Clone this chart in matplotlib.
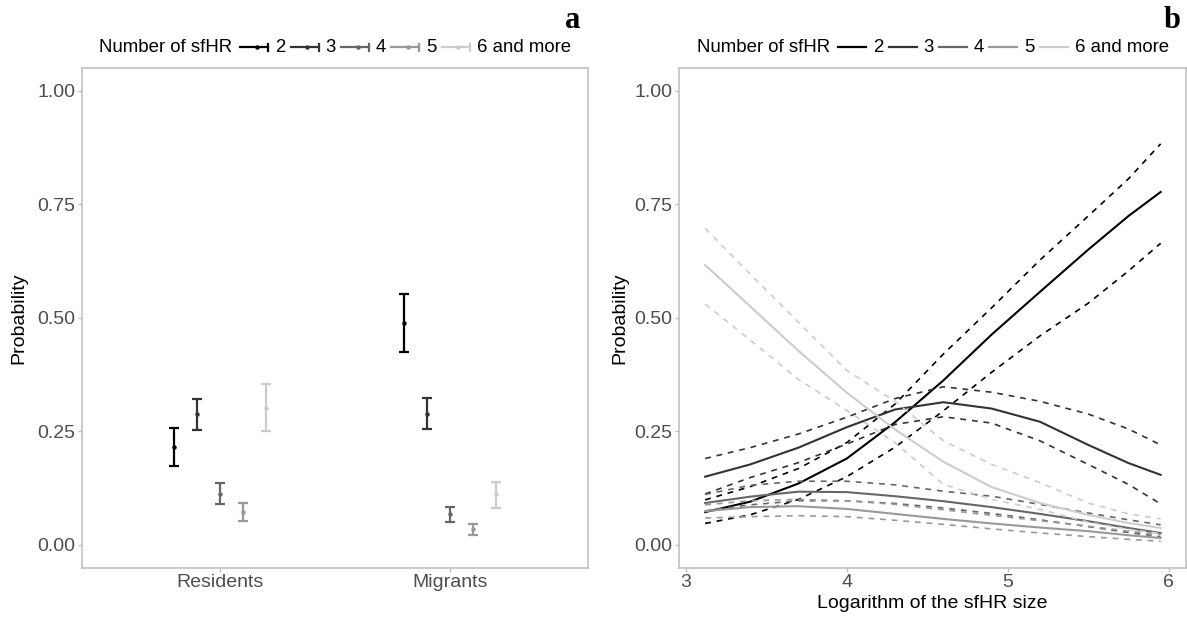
import matplotlib
matplotlib.use('Agg')
import matplotlib.pyplot as plt
from matplotlib.lines import Line2D

plt.rcParams['font.family'] = ['Liberation Sans', 'DejaVu Sans']

# groups and colours (grey scale)
groups = ['2', '3', '4', '5', '6 and more']
colors = ['#000000', '#333333', '#666666', '#999999', '#CCCCCC']

# panel a: probability by status
status = ['Residents', 'Migrants']
res_mean = [0.216, 0.287, 0.112, 0.072, 0.302]
res_low = [0.173, 0.253, 0.090, 0.052, 0.251]
res_high = [0.257, 0.322, 0.135, 0.091, 0.354]
mig_mean = [0.488, 0.288, 0.067, 0.034, 0.111]
mig_low = [0.424, 0.254, 0.051, 0.022, 0.080]
mig_high = [0.552, 0.324, 0.083, 0.045, 0.139]

# panel b: probability vs log sfHR size
log_size = [3.12, 3.4, 3.7, 4.0, 4.3, 4.6, 4.9, 5.2, 5.5, 5.75, 5.95]
p2 = [0.072, 0.095, 0.135, 0.190, 0.270, 0.362, 0.463, 0.557, 0.650, 0.724, 0.777]
p2_hi = [0.099, 0.128, 0.168, 0.225, 0.310, 0.420, 0.522, 0.627, 0.724, 0.806, 0.883]
p2_lo = [0.047, 0.066, 0.100, 0.150, 0.215, 0.295, 0.380, 0.460, 0.532, 0.603, 0.664]
p3 = [0.150, 0.177, 0.214, 0.259, 0.298, 0.314, 0.300, 0.271, 0.220, 0.180, 0.154]
p3_hi = [0.190, 0.214, 0.244, 0.281, 0.322, 0.348, 0.336, 0.316, 0.288, 0.255, 0.220]
p3_lo = [0.112, 0.148, 0.181, 0.222, 0.265, 0.282, 0.268, 0.229, 0.177, 0.133, 0.090]
p4 = [0.092, 0.106, 0.117, 0.116, 0.107, 0.096, 0.083, 0.068, 0.052, 0.037, 0.026]
p4_hi = [0.111, 0.131, 0.140, 0.140, 0.132, 0.118, 0.107, 0.089, 0.070, 0.055, 0.044]
p4_lo = [0.075, 0.088, 0.097, 0.097, 0.091, 0.081, 0.069, 0.055, 0.040, 0.027, 0.018]
p5 = [0.074, 0.083, 0.085, 0.079, 0.068, 0.057, 0.047, 0.038, 0.030, 0.021, 0.015]
p5_hi = [0.088, 0.097, 0.100, 0.097, 0.089, 0.077, 0.065, 0.053, 0.041, 0.030, 0.023]
p5_lo = [0.059, 0.062, 0.064, 0.062, 0.054, 0.045, 0.035, 0.026, 0.018, 0.012, 0.008]
p6 = [0.616, 0.525, 0.427, 0.335, 0.254, 0.183, 0.127, 0.092, 0.066, 0.048, 0.037]
p6_hi = [0.697, 0.596, 0.490, 0.384, 0.316, 0.229, 0.177, 0.137, 0.092, 0.068, 0.057]
p6_lo = [0.530, 0.451, 0.364, 0.296, 0.225, 0.133, 0.100, 0.078, 0.050, 0.034, 0.025]

curves = [(p2, p2_lo, p2_hi), (p3, p3_lo, p3_hi), (p4, p4_lo, p4_hi),
          (p5, p5_lo, p5_hi), (p6, p6_lo, p6_hi)]

fig = plt.figure(figsize=(11.87, 6.19), dpi=100)
W, H = 1187, 619
ax1 = fig.add_axes([82 / W, 1 - 567.5 / H, 506 / W, 499.5 / H])
ax2 = fig.add_axes([679 / W, 1 - 567.5 / H, 507 / W, 499.5 / H])

yt = [0, 0.25, 0.5, 0.75, 1.0]
for ax in (ax1, ax2):
    for s in ax.spines.values():
        s.set_color('#BDBDBD')
        s.set_linewidth(1.1)
    ax.tick_params(colors='#BDBDBD', labelcolor='#4D4D4D', labelsize=14,
                   length=3, width=0.9, pad=2)
    ax.set_ylim(-0.05, 1.05)
    ax.set_yticks(yt)
    ax.set_yticklabels(['%.2f' % v for v in yt])
    ax.set_ylabel('Probability', fontsize=14, color='black')

# panel a
offsets = [-0.2, -0.1, 0.0, 0.1, 0.2]
for i, g in enumerate(groups):
    xs = [1 + offsets[i], 2 + offsets[i]]
    m = [res_mean[i], mig_mean[i]]
    lo = [res_mean[i] - res_low[i], mig_mean[i] - mig_low[i]]
    hi = [res_high[i] - res_mean[i], mig_high[i] - mig_mean[i]]
    ax1.errorbar(xs, m, yerr=[lo, hi], fmt='o', ms=2.2, color=colors[i],
                 elinewidth=1.6, capsize=3.8, capthick=1.6)
ax1.set_xlim(0.4, 2.6)
ax1.set_xticks([1, 2])
ax1.set_xticklabels(status)
ax1.yaxis.set_label_coords(-0.108, 0.5)

# panel b
for i, (m, lo, hi) in enumerate(curves):
    ax2.plot(log_size, m, color=colors[i], lw=1.5, solid_joinstyle='round')
    for band in (lo, hi):
        ax2.plot(log_size, band, color=colors[i], lw=1.2, ls=(0, (3.5, 3.5)))
ax2.set_xlim(2.9575, 6.1075)
ax2.set_xticks([3, 4, 5, 6])
ax2.set_xlabel('Logarithm of the sfHR size', fontsize=14, color='black')
ax2.xaxis.set_label_coords(0.5, -0.055)
ax2.yaxis.set_label_coords(-0.100, 0.5)

# legends drawn in figure pixels, centred above each panel
renderer = fig.canvas.get_renderer()


def draw_legend(center_px, kind):
    y = 1 - 47 / H
    title = fig.text(0, y, 'Number of sfHR', fontsize=13.4, va='center')
    labels = [fig.text(0, y, g, fontsize=13.4, va='center') for g in groups]
    tw = title.get_window_extent(renderer).width
    lw_ = [t.get_window_extent(renderer).width for t in labels]
    key, gap1, gap2 = 28, 7, 5
    total = tw + 8 + sum(key + gap1 + w for w in lw_) + gap2 * (len(groups) - 1)
    x = center_px - total / 2
    title.set_x(x / W)
    x += tw + 8
    for i, t in enumerate(labels):
        fig.add_artist(Line2D([x / W, (x + key) / W], [y, y], transform=fig.transFigure,
                              color=colors[i], lw=1.6))
        if kind == 'err':
            fig.add_artist(Line2D([(x + key) / W] * 2, [y - 3.5 / H, y + 3.5 / H],
                                  transform=fig.transFigure, color=colors[i], lw=1.6))
            fig.add_artist(Line2D([(x + key * 0.6) / W], [y], transform=fig.transFigure,
                                  color=colors[i], marker='o', ms=2.2, ls='none'))
        x += key + gap1
        t.set_x(x / W)
        x += lw_[i] + gap2


draw_legend(335, 'err')
draw_legend(933, 'line')

fig.text(573 / W, 1 - 20 / H, 'a', fontsize=22, fontweight='bold',
         family='Liberation Serif', ha='center', va='center')
fig.text(1172 / W, 1 - 20 / H, 'b', fontsize=22, fontweight='bold',
         family='Liberation Serif', ha='center', va='center')

fig.savefig('out.png', dpi=100)
